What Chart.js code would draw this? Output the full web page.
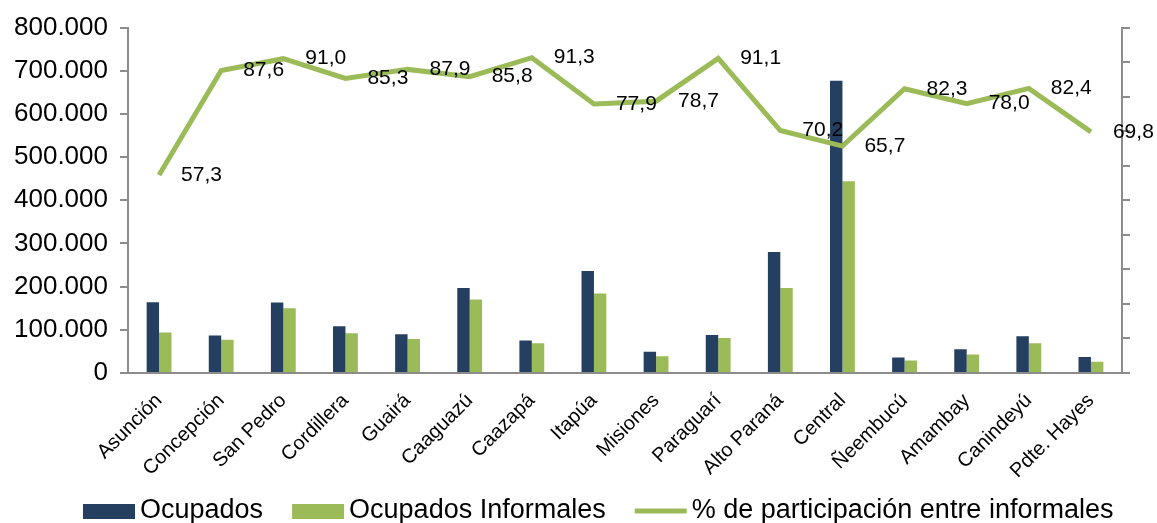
<!DOCTYPE html>
<html>
<head>
<meta charset="utf-8">
<script src="https://cdn.jsdelivr.net/npm/chart.js@4.4.1/dist/chart.umd.min.js"></script>
<style>
  html, body { margin: 0; padding: 0; background: #fff; }
  #wrap { width: 1157px; height: 523px; }
</style>
</head>
<body>
<div id="wrap"><canvas id="chart"></canvas></div>
<script>
const departamentos = ['Asunción', 'Concepción', 'San Pedro', 'Cordillera', 'Guairá', 'Caaguazú',
  'Caazapá', 'Itapúa', 'Misiones', 'Paraguarí', 'Alto Paraná', 'Central', 'Ñeembucú',
  'Amambay', 'Canindeyú', 'Pdte. Hayes'];
const ocupados   = [164000, 87000, 163000, 108000, 90000, 197000, 75000, 236000, 49000, 88000, 280000, 677000, 36000, 55000, 85000, 37000];
const informales = [94000, 77000, 150000, 92000, 79000, 170000, 69000, 184000, 39000, 81000, 197000, 444000, 29000, 43000, 69000, 26000];
const participacion = [57.3, 87.6, 91.0, 85.3, 87.9, 85.8, 91.3, 77.9, 78.7, 91.1, 70.2, 65.7, 82.3, 78.0, 82.4, 69.8];
const leftTicks = [0, 100000, 200000, 300000, 400000, 500000, 600000, 700000, 800000];

const NAVY = '#243F60';
const GREEN = '#9BBB59';
const AXIS = '#8C8C8C';
const FONT = "'Liberation Sans', Arial, sans-serif";

const miles = v => String(v).replace(/\B(?=(\d{3})+(?!\d))/g, '.');
const coma = v => v.toFixed(1).replace('.', ',');

// labels for the % line, drawn right of each point
const lineLabels = {
  id: 'lineLabels',
  afterDatasetsDraw(chart) {
    const meta = chart.getDatasetMeta(2);
    const { ctx } = chart;
    ctx.save();
    ctx.font = `21px ${FONT}`;
    ctx.fillStyle = '#000';
    ctx.textAlign = 'left';
    ctx.textBaseline = 'middle';
    meta.data.forEach((pt, i) => {
      ctx.fillText(coma(participacion[i]), pt.x + 22, pt.y);
    });
    ctx.restore();
  }
};

// legend row along the bottom edge (Excel style: wide keys, tight text)
const bottomLegend = {
  id: 'bottomLegend',
  afterDraw(chart) {
    const { ctx } = chart;
    const y = 511;
    let x = 83;
    ctx.save();
    ctx.font = `27px ${FONT}`;
    ctx.textBaseline = 'middle';
    ctx.textAlign = 'left';
    chart.data.datasets.forEach(ds => {
      if (ds.type === 'line') {
        ctx.strokeStyle = ds.borderColor;
        ctx.lineWidth = 5;
        ctx.beginPath();
        ctx.moveTo(x, y);
        ctx.lineTo(x + 52, y);
        ctx.stroke();
      } else {
        ctx.fillStyle = ds.backgroundColor;
        ctx.fillRect(x, y - 7, 52, 15);
      }
      x += 57;
      ctx.fillStyle = '#000';
      ctx.fillText(ds.label, x, y);
      x += ctx.measureText(ds.label).width + 29;
    });
    ctx.restore();
  }
};

new Chart(document.getElementById('chart'), {
  data: {
    labels: departamentos,
    datasets: [
      {
        type: 'bar', label: 'Ocupados', data: ocupados,
        backgroundColor: NAVY, yAxisID: 'y', order: 1,
        barPercentage: 1, categoryPercentage: 0.4
      },
      {
        type: 'bar', label: 'Ocupados Informales', data: informales,
        backgroundColor: GREEN, yAxisID: 'y', order: 1,
        barPercentage: 1, categoryPercentage: 0.4
      },
      {
        type: 'line', label: '% de participación entre informales', data: participacion,
        borderColor: GREEN, borderWidth: 5, pointRadius: 0, tension: 0,
        yAxisID: 'y1', order: 0
      }
    ]
  },
  options: {
    responsive: true,
    maintainAspectRatio: false,
    animation: false,
    layout: { padding: { top: 15, left: 0, right: 0, bottom: 0 } },
    plugins: {
      tooltip: { enabled: false },
      legend: { display: false }
    },
    scales: {
      x: {
        grid: { display: false, drawTicks: false },
        border: { color: AXIS, width: 2 },
        ticks: {
          autoSkip: false, maxRotation: 45, minRotation: 45,
          font: { family: FONT, size: 20 }, color: '#000', padding: 16
        },
        afterFit: axis => { axis.height = 150; }
      },
      y: {
        position: 'left',
        min: 0, max: 800000,
        afterBuildTicks: axis => { axis.ticks = leftTicks.map(v => ({ value: v })); },
        grid: { drawOnChartArea: false, drawTicks: true, tickLength: 8, color: AXIS, lineWidth: 2 },
        border: { color: AXIS, width: 2 },
        ticks: {
          font: { family: FONT, size: 26 }, color: '#000', padding: 12,
          callback: v => miles(v)
        },
        afterFit: axis => { axis.width = 128; }
      },
      y1: {
        position: 'right',
        min: 0, max: 100,
        grid: { drawOnChartArea: false, drawTicks: true, tickLength: 8, color: AXIS, lineWidth: 2 },
        border: { color: AXIS, width: 2 },
        ticks: { stepSize: 10, display: false },
        afterFit: axis => { axis.width = 35; }
      }
    }
  },
  plugins: [lineLabels, bottomLegend]
});
</script>
</body>
</html>
